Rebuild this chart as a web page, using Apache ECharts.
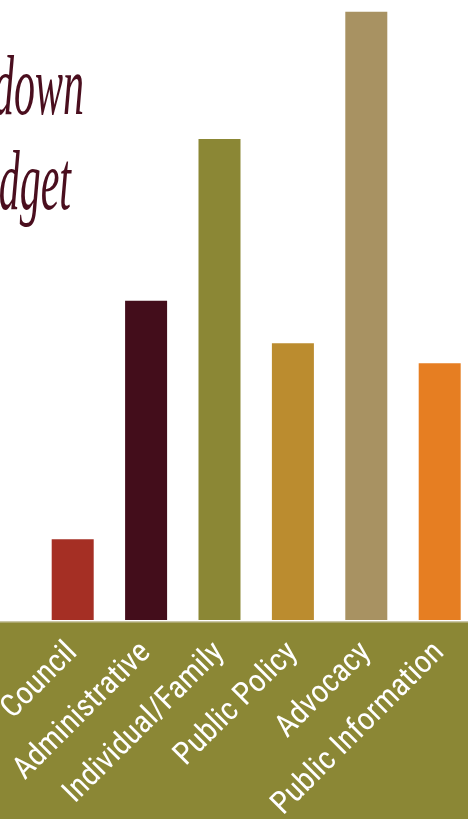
<!DOCTYPE html>
<html>
<head>
<meta charset="utf-8">
<script src="https://cdn.jsdelivr.net/npm/echarts@6/dist/echarts.min.js"></script>
<style>
html,body{margin:0;padding:0;background:#ffffff;}
#chart{width:468px;height:819px;}
</style>
</head>
<body>
<div id="chart"></div>
<script>
const categories = ["Council", "Administrative", "Individual/Family", "Public Policy", "Advocacy", "Public Information"];
const shares = [4.0, 15.8, 23.8, 13.7, 30.1, 12.7];
const barColors = ["#a52f24", "#430d1b", "#8b8735", "#bb8c2f", "#a89262", "#e67e22"];
const titleLines = ["Breakdown", "of the Budget"];

const chart = echarts.init(document.getElementById('chart'), null, {renderer: 'canvas'});
chart.setOption({
  backgroundColor: '#ffffff',
  animation: false,
  grid: {left: 36, top: 0, width: 440.4, bottom: 199, containLabel: false, outerBoundsMode: 'none'},
  xAxis: {
    type: 'category',
    data: categories,
    z: 5,
    axisLine: {show: false},
    axisTick: {show: false},
    axisLabel: {
      rotate: 45,
      interval: 0,
      margin: 28,
      color: '#ffffff',
      fontFamily: '"Liberation Sans Narrow", "Roboto Condensed", Roboto',
      fontSize: 31.5
    }
  },
  yAxis: {type: 'value', min: 0, max: 30.68, show: false},
  series: [{
    type: 'bar',
    barWidth: 42,
    data: shares.map((v, i) => ({value: v, itemStyle: {color: barColors[i]}}))
  }],
  graphic: [
    {type: 'rect', z: -1, shape: {x: 0, y: 622, width: 468, height: 197}, style: {fill: '#8b8735'}},
    {type: 'rect', z: -1, shape: {x: 0, y: 621, width: 468, height: 1.5}, style: {fill: '#c9c6a6'}},
    {type: 'text', x: 84, y: 134, scaleX: 0.5,
      style: {text: titleLines[0], font: 'italic 84px "Liberation Serif"', fill: '#4a0e1e', textAlign: 'right', textVerticalAlign: 'bottom'}},
    {type: 'text', x: 71, y: 229, scaleX: 0.5,
      style: {text: titleLines[1], font: 'italic 84px "Liberation Serif"', fill: '#4a0e1e', textAlign: 'right', textVerticalAlign: 'bottom'}}
  ]
});
</script>
</body>
</html>
